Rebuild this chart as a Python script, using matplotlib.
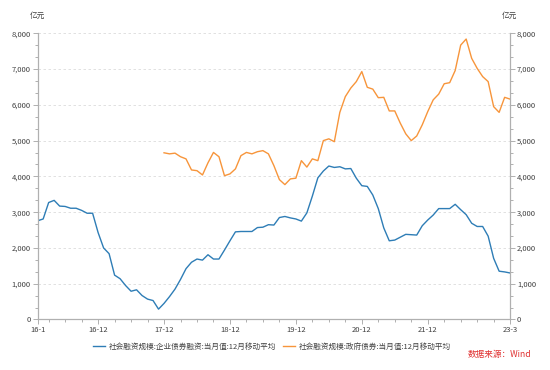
import matplotlib
matplotlib.use("Agg")
import matplotlib.pyplot as plt
import numpy as np
import pandas as pd
from matplotlib.ticker import MultipleLocator, FuncFormatter

plt.rcParams['font.family'] = ['Noto Sans CJK SC', 'DejaVu Sans']

# 月度序列：2016-01 至 2023-03
months = pd.period_range("2016-01", "2023-03", freq="M")

# 企业债券融资 12个月移动平均（亿元）
corp_bond = [
    2760, 2810, 3270, 3330, 3170, 3160, 3110, 3110, 3050, 2970,
    2970, 2430, 2000, 1840, 1240, 1140, 950, 790, 830, 670,
    570, 530, 290, 450, 640, 850, 1120, 1420, 1600, 1690,
    1660, 1810, 1690, 1690, 1940, 2200, 2450, 2460, 2460, 2460,
    2570, 2580, 2650, 2640, 2850, 2880, 2840, 2810, 2750, 2980,
    3450, 3960, 4150, 4290, 4250, 4270, 4210, 4220, 3950, 3740,
    3720, 3480, 3100, 2560, 2200, 2220, 2300, 2380, 2370, 2360,
    2620, 2780, 2920, 3100, 3100, 3100, 3220, 3070, 2930, 2690,
    2600, 2600, 2330, 1710, 1350, 1330, 1300,
]

# 政府债券 12个月移动平均（亿元），从 2017-12 开始
gov_start = "2017-12"
gov_bond = [
    4660, 4630, 4650, 4550, 4490, 4180, 4160, 4040, 4380, 4670,
    4550, 4020, 4070, 4210, 4580, 4670, 4630, 4690, 4720, 4630,
    4300, 3910, 3770, 3930, 3950, 4440, 4260, 4490, 4440, 5000,
    5050, 4970, 5790, 6230, 6470, 6650, 6930, 6490, 6440, 6200,
    6210, 5830, 5830, 5490, 5190, 5000, 5130, 5440, 5810, 6140,
    6300, 6590, 6620, 6960, 7670, 7840, 7300, 7020, 6790, 6650,
    5950, 5790, 6210, 6160,
]

tick_months = ["2016-01", "2016-12", "2017-12", "2018-12", "2019-12",
               "2020-12", "2021-12", "2023-03"]
tick_labels = ["16-1", "16-12", "17-12", "18-12", "19-12", "20-12", "21-12", "23-3"]

name_corp = "社会融资规模:企业债券融资:当月值:12月移动平均"
name_gov = "社会融资规模:政府债券:当月值:12月移动平均"

c_blue = "#2e7db6"
c_orange = "#f7953b"
c_axis = "#b0b0b0"
c_text = "#404040"

x_all = np.arange(len(months))
gov_i0 = list(months.astype(str)).index(gov_start)
x_gov = np.arange(gov_i0, gov_i0 + len(gov_bond))

fig = plt.figure(figsize=(5.5, 3.7), dpi=100)
ax = fig.add_axes([0.0685, 0.1365, 0.859, 0.7735])

ax.plot(x_all, corp_bond, color=c_blue, lw=1.0, label=name_corp, zorder=3)
ax.plot(x_gov, gov_bond, color=c_orange, lw=1.0, label=name_gov, zorder=3)

ax.set_xlim(0, len(months) - 1)
ax.set_ylim(0, 8000)

# x 轴刻度
pos = [list(months.astype(str)).index(m) for m in tick_months]
ax.set_xticks(pos)
ax.set_xticklabels(tick_labels)
ax.set_xticks(np.arange(2, len(months), 3), minor=True)

# y 轴刻度
ax.yaxis.set_major_locator(MultipleLocator(1000))
ax.yaxis.set_minor_locator(MultipleLocator(1000 / 3))
fmt = FuncFormatter(lambda v, p: f"{int(v):,}")
ax.yaxis.set_major_formatter(fmt)
ax.grid(axis="y", which="major", color="#dcdcdc", ls=(0, (3, 3)), lw=0.6)

ax2 = ax.twinx()
ax2.set_ylim(ax.get_ylim())
ax2.yaxis.set_major_locator(MultipleLocator(1000))
ax2.yaxis.set_minor_locator(MultipleLocator(1000 / 3))
ax2.yaxis.set_major_formatter(fmt)

for a in (ax, ax2):
    a.tick_params(which="both", colors=c_axis, labelcolor=c_text, labelsize=5.5,
                  width=0.7, pad=1.5)
    a.tick_params(which="major", length=3.5)
    a.tick_params(which="minor", length=2.5)
    for s in a.spines.values():
        s.set_color(c_axis)
        s.set_linewidth(0.8)
    a.spines["top"].set_visible(False)

# 单位
fig.text(37.5 / 550, 1 - 16 / 370, "亿元", ha="center", va="center", fontsize=5.5, color=c_text)
fig.text(509 / 550, 1 - 16 / 370, "亿元", ha="center", va="center", fontsize=5.5, color=c_text)

# 图例
fig.legend(loc="center", bbox_to_anchor=(272 / 550, 1 - 347 / 370), ncol=2,
           frameon=False, fontsize=5.5, handlelength=1.6, handletextpad=0.5,
           columnspacing=0.9, labelcolor=c_text)

# 数据来源
fig.text(531 / 550, 1 - 355 / 370, "数据来源：Wind", ha="right", va="center",
         fontsize=6.2, color="#e03030")

fig.savefig("out.png", dpi=100)
